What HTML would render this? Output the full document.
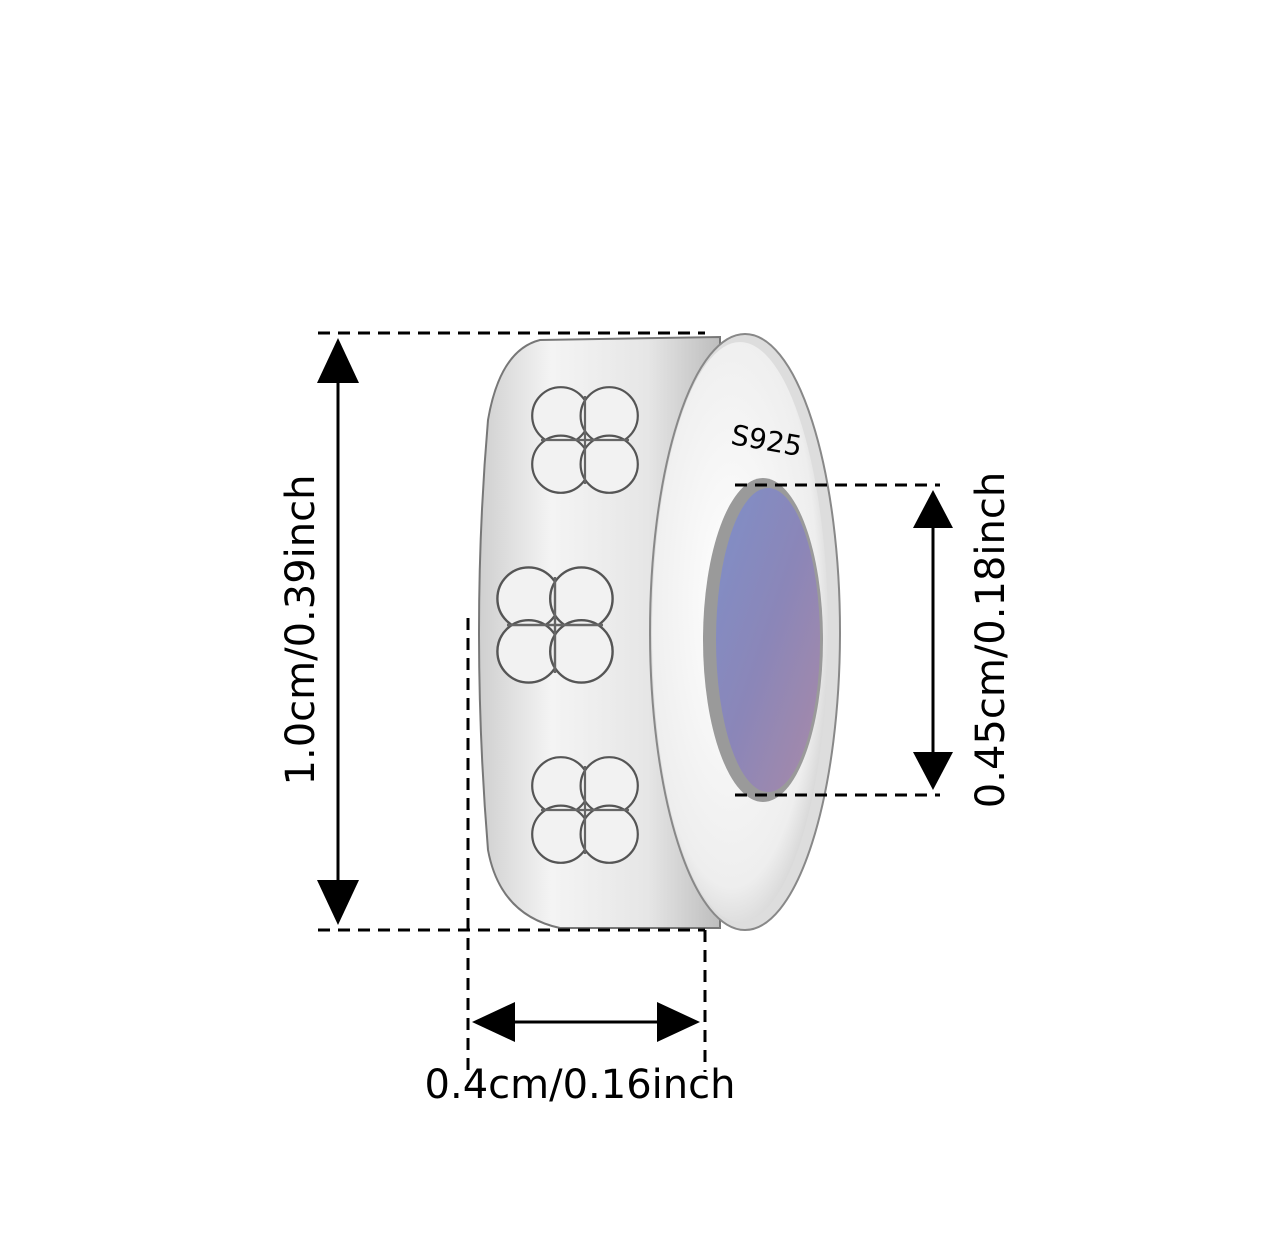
<!DOCTYPE html>
<html><head><meta charset="utf-8"><style>
html,body{margin:0;padding:0;background:#fff;}
svg{display:block}
text{font-family:"DejaVu Sans","Liberation Sans",sans-serif;fill:#000}
</style></head><body>
<svg width="1284" height="1258" viewBox="0 0 1284 1258" xmlns="http://www.w3.org/2000/svg">
<defs>
<linearGradient id="body" x1="0" x2="1" y1="0" y2="0">
<stop offset="0" stop-color="#cfcfcf"/><stop offset="0.3" stop-color="#f4f4f4"/><stop offset="0.7" stop-color="#e6e6e6"/><stop offset="1" stop-color="#bdbdbd"/>
</linearGradient>
<radialGradient id="face" cx="0.45" cy="0.45" r="0.7">
<stop offset="0" stop-color="#ffffff"/><stop offset="0.7" stop-color="#eeeeee"/><stop offset="1" stop-color="#b8b8b8"/>
</radialGradient>
<linearGradient id="hole" x1="0" x2="1" y1="0" y2="1">
<stop offset="0" stop-color="#7f8fc8"/><stop offset="0.5" stop-color="#8b86b8"/><stop offset="1" stop-color="#a88aa8"/>
</linearGradient>
<g id="clover">
<circle cx="-22" cy="-22" r="26" fill="#f2f2f2" stroke="#555" stroke-width="2"/>
<circle cx="22" cy="-22" r="26" fill="#f2f2f2" stroke="#555" stroke-width="2"/>
<circle cx="-22" cy="22" r="26" fill="#f2f2f2" stroke="#555" stroke-width="2"/>
<circle cx="22" cy="22" r="26" fill="#f2f2f2" stroke="#555" stroke-width="2"/>
<path d="M-40 0H40M0 -40V40" stroke="#666" stroke-width="2"/>
</g>
</defs>

<!-- charm body -->
<path d="M540 340 Q500 350 488 420 Q470 630 488 850 Q500 915 560 928 L720 928 L720 337 Z" fill="url(#body)" stroke="#777" stroke-width="2"/>
<use href="#clover" transform="translate(585,440) scale(1.1)"/>
<use href="#clover" transform="translate(555,625) scale(1.2)"/>
<use href="#clover" transform="translate(585,810) scale(1.1)"/>
<ellipse cx="745" cy="632" rx="95" ry="298" fill="#ddd" stroke="#888" stroke-width="2"/>
<ellipse cx="740" cy="632" rx="88" ry="290" fill="url(#face)"/>
<ellipse cx="763" cy="640" rx="60" ry="162" fill="#9a9a9a"/>
<ellipse cx="768" cy="640" rx="52" ry="152" fill="url(#hole)"/>
<text x="765" y="450" font-size="28" transform="rotate(10 765 450)" text-anchor="middle" fill="#333">S925</text>

<g stroke="#000" stroke-width="3" stroke-dasharray="12 8" fill="none">
<line x1="318" y1="333" x2="705" y2="333"/>
<line x1="318" y1="930" x2="705" y2="930"/>
<line x1="735" y1="485" x2="940" y2="485"/>
<line x1="735" y1="795" x2="940" y2="795"/>
<line x1="468" y1="618" x2="468" y2="1072"/>
<line x1="705" y1="930" x2="705" y2="1072"/>
</g>
<g stroke="#000" stroke-width="3">
<line x1="338" y1="360" x2="338" y2="900"/>
<line x1="933" y1="510" x2="933" y2="770"/>
<line x1="500" y1="1022" x2="670" y2="1022"/>
</g>
<g fill="#000">
<polygon points="338,338 317,383 359,383"/>
<polygon points="338,925 317,880 359,880"/>
<polygon points="933,490 913,528 953,528"/>
<polygon points="933,790 913,752 953,752"/>
<polygon points="472,1022 515,1002 515,1042"/>
<polygon points="700,1022 657,1002 657,1042"/>
</g>
<text x="300" y="630" font-size="40" text-anchor="middle" transform="rotate(-90 300 630)" dy="14">1.0cm/0.39inch</text>
<text x="990" y="640" font-size="40" text-anchor="middle" transform="rotate(-90 990 640)" dy="14">0.45cm/0.18inch</text>
<text x="580" y="1098" font-size="40" text-anchor="middle">0.4cm/0.16inch</text>
</svg>
</body></html>
